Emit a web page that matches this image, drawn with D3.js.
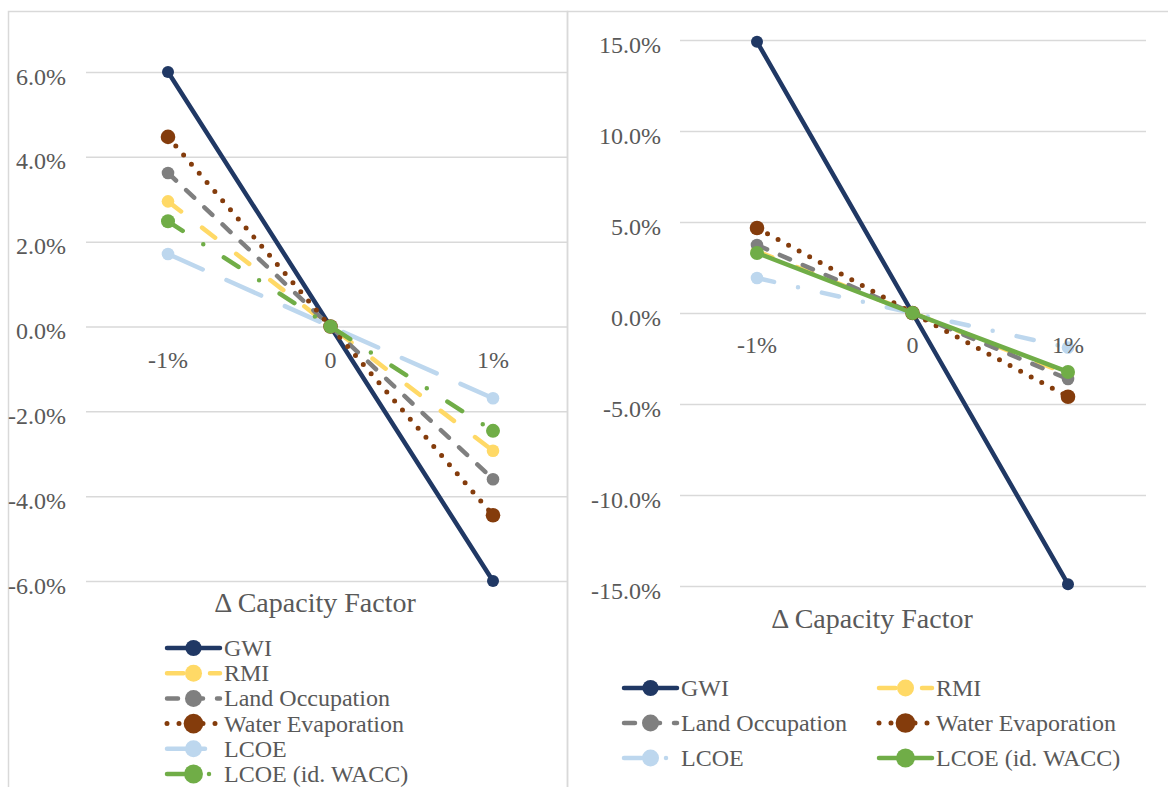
<!DOCTYPE html>
<html>
<head>
<meta charset="utf-8">
<script src="https://cdn.jsdelivr.net/npm/d3@7/dist/d3.min.js"></script>
<style>
  html, body { margin: 0; padding: 0; background: #fff; }
  svg { display: block; }
  svg text { font-family: "Liberation Serif", "Times New Roman", "DejaVu Serif", serif !important; }
</style>
</head>
<body>
<svg id="chart" width="1168" height="787"></svg>
<script>
// Sensitivity of each indicator to a change in capacity factor (values in %)
const categories = ["-1%", "0", "1%"];
const seriesNames = ["GWI", "RMI", "Land Occupation", "Water Evaporation", "LCOE", "LCOE (id. WACC)"];

// Left panel
const leftGWI   = [6.0, 0, -6.0];
const leftRMI   = [2.95, 0, -2.93];
const leftLand  = [3.62, 0, -3.60];
const leftWater = [4.47, 0, -4.45];
const leftLCOE  = [1.71, 0, -1.69];
const leftLCOEw = [2.48, 0, -2.46];
const leftTicks = [-6, -4, -2, 0, 2, 4, 6];

// Right panel
const rightGWI   = [14.9, 0, -14.9];
const rightRMI   = [3.40, 0, -3.35];
const rightLand  = [3.74, 0, -3.63];
const rightWater = [4.67, 0, -4.60];
const rightLCOE  = [1.92, 0, -1.90];
const rightLCOEw = [3.30, 0, -3.24];
const rightTicks = [-15, -10, -5, 0, 5, 10, 15];

// Styles
const colors = {
  "GWI": "#203864",
  "RMI": "#FFD966",
  "Land Occupation": "#7F7F7F",
  "Water Evaporation": "#843C0C",
  "LCOE": "#BDD7EE",
  "LCOE (id. WACC)": "#70AD47"
};
const dashes = {
  solid: null,
  longDash: "16.5,26.5",
  dash: "11,14",
  dot: "0,12",
  longDashWide: "38,26",
  longDashDot: "17.5,24.5,0,24.5"
};
const radius = {
  "GWI": 6, "RMI": 6.3, "Land Occupation": 6.3,
  "Water Evaporation": 7.3, "LCOE": 6.3, "LCOE (id. WACC)": 7
};
const leftDash = {
  "GWI": "solid", "RMI": "longDash", "Land Occupation": "dash",
  "Water Evaporation": "dot", "LCOE": "longDashWide", "LCOE (id. WACC)": "longDashDot"
};
const rightDash = {
  "GWI": "solid", "RMI": "longDash", "Land Occupation": "dash",
  "Water Evaporation": "dot", "LCOE": "longDashDot", "LCOE (id. WACC)": "solid"
};

const textColor = "#595959";
const gridColor = "#D9D9D9";
const serif = "'Liberation Serif', 'Times New Roman', 'DejaVu Serif', serif";

const svg = d3.select("#chart");
svg.append("rect").attr("width", 1168).attr("height", 787).attr("fill", "#fff");

// Panel frames
svg.append("rect").attr("x", 8.5).attr("y", 11.5).attr("width", 559).attr("height", 820)
  .attr("fill", "none").attr("stroke", gridColor).attr("stroke-width", 1.5);
svg.append("rect").attr("x", 567.5).attr("y", 11.5).attr("width", 700).attr("height", 820)
  .attr("fill", "none").attr("stroke", gridColor).attr("stroke-width", 1.5);

function label(sel) {
  return sel.style("font-family", serif).attr("fill", textColor);
}

function drawPanel(cfg) {
  const g = svg.append("g");
  const x = d3.scalePoint().domain(categories).range(cfg.xRange);
  const y = d3.scaleLinear().domain(cfg.yDomain).range(cfg.yRange);

  // Value axis with gridlines
  const axis = d3.axisLeft(y)
    .tickValues(cfg.ticks)
    .tickSize(-(cfg.gridRight - cfg.gridLeft))
    .tickPadding(cfg.gridLeft - cfg.labelRight)
    .tickFormat(d => d.toFixed(1) + "%");
  const ag = g.append("g").attr("transform", `translate(${cfg.gridLeft},0)`).call(axis);
  ag.attr("font-family", null).attr("font-size", null);
  ag.select(".domain").remove();
  ag.selectAll(".tick line").attr("stroke", gridColor).attr("stroke-width", 1.5);
  label(ag.selectAll(".tick text"))
    .style("font-size", "24px")
    .attr("dy", "0.5em");

  // Series
  const line = d3.line().x((d, i) => x(categories[i])).y(d => y(d));
  cfg.series.forEach(s => {
    const dashKey = cfg.dash[s.name];
    const p = g.append("path").datum(s.values)
      .attr("d", line)
      .attr("fill", "none")
      .attr("stroke", colors[s.name])
      .attr("stroke-width", dashKey === "dot" ? 5 : 4.5)
      .attr("stroke-linecap", "round")
      .attr("stroke-linejoin", "round");
    if (dashes[dashKey]) p.attr("stroke-dasharray", dashes[dashKey]);
    g.selectAll(null).data(s.values).enter().append("circle")
      .attr("cx", (d, i) => x(categories[i]))
      .attr("cy", d => y(d))
      .attr("r", radius[s.name])
      .attr("fill", colors[s.name]);
  });

  // Category labels beside the zero line
  label(g.selectAll(null).data(categories).enter().append("text"))
    .attr("x", d => x(d))
    .attr("y", y(0) + cfg.catOffset)
    .attr("text-anchor", "middle")
    .style("font-size", "24px")
    .text(d => d);

  // Axis title
  label(g.append("text"))
    .attr("x", cfg.titleX).attr("y", cfg.titleY)
    .attr("text-anchor", "middle")
    .style("font-size", "28px")
    .text("Δ Capacity Factor");

  // Legend
  cfg.legend.forEach((pos, i) => {
    const name = seriesNames[i];
    const dashKey = cfg.dash[name];
    const lg = g.append("g");
    const l = lg.append("line")
      .attr("x1", pos.x).attr("x2", pos.x + 53)
      .attr("y1", pos.y).attr("y2", pos.y)
      .attr("stroke", colors[name])
      .attr("stroke-width", dashKey === "dot" ? 5 : 4.5)
      .attr("stroke-linecap", "round");
    if (dashes[dashKey]) l.attr("stroke-dasharray", dashes[dashKey]);
    lg.append("circle").attr("cx", pos.x + 26.5).attr("cy", pos.y)
      .attr("r", radius[name] * 1.35).attr("fill", colors[name]);
    label(lg.append("text")).attr("x", pos.x + 57).attr("y", pos.y + 8)
      .style("font-size", "24px")
      .text(name);
  });
}

drawPanel({
  xRange: [168, 493],
  yDomain: [-6, 6], yRange: [581, 72],
  ticks: leftTicks,
  gridLeft: 86, gridRight: 567, labelRight: 66,
  catOffset: 41,
  titleX: 315, titleY: 612,
  dash: leftDash,
  series: [
    { name: "GWI", values: leftGWI },
    { name: "RMI", values: leftRMI },
    { name: "Land Occupation", values: leftLand },
    { name: "Water Evaporation", values: leftWater },
    { name: "LCOE", values: leftLCOE },
    { name: "LCOE (id. WACC)", values: leftLCOEw }
  ],
  legend: seriesNames.map((n, i) => ({ x: 167, y: 648 + 25.2 * i }))
});

drawPanel({
  xRange: [757, 1068],
  yDomain: [-15, 15], yRange: [586, 40],
  ticks: rightTicks,
  gridLeft: 680, gridRight: 1146, labelRight: 661,
  catOffset: 40,
  titleX: 872, titleY: 628,
  dash: rightDash,
  series: [
    { name: "GWI", values: rightGWI },
    { name: "RMI", values: rightRMI },
    { name: "Land Occupation", values: rightLand },
    { name: "Water Evaporation", values: rightWater },
    { name: "LCOE", values: rightLCOE },
    { name: "LCOE (id. WACC)", values: rightLCOEw }
  ],
  legend: seriesNames.map((n, i) => ({ x: i % 2 === 0 ? 624 : 879, y: 688 + 35 * Math.floor(i / 2) }))
});
</script>
</body>
</html>
